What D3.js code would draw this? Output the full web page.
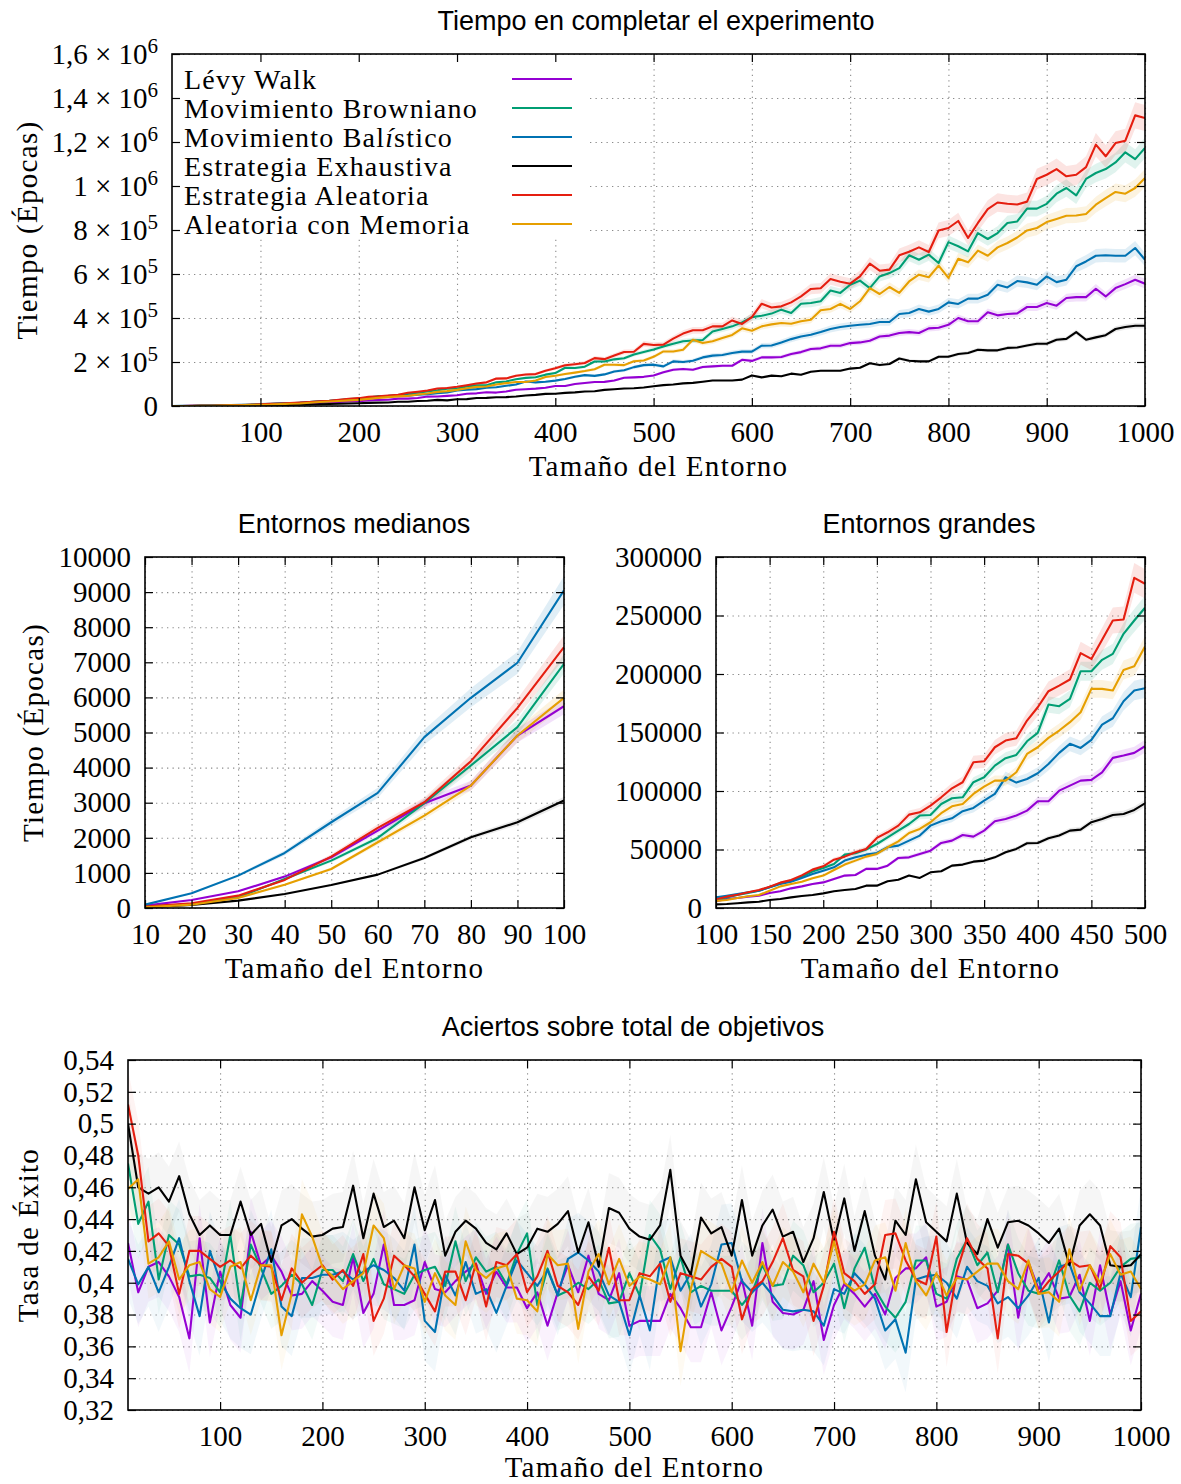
<!DOCTYPE html>
<html>
<head>
<meta charset="utf-8">
<script src="https://cdn.jsdelivr.net/npm/d3@7"></script>
<style>
  body { margin: 0; background: #fff; }
  text { font-family: "Liberation Serif", "Times New Roman", serif; fill: #000; }
  .titulo { font-family: "Liberation Sans", Arial, sans-serif; font-size: 27px; }
  .rotulo { font-size: 29px; letter-spacing: 1.3px; }
</style>
</head>
<body>
<svg id="fig" width="1181" height="1484"></svg>
<script>
const svg = d3.select("#fig");

// tamaños del entorno: 10, 20, ..., 1000
let tamanos = d3.range(10, 1001, 10);

let estrategias = ["Lévy Walk", "Movimiento Browniano", "Movimiento Balístico",
                   "Estrategia Exhaustiva", "Estrategia Aleatoria", "Aleatoria con Memoria"];
let colores = ["#9400d3", "#009e73", "#0072b2", "#000000", "#e51e10", "#e69f00"];

// tiempo medio en completar (miles de épocas)
let tiempoLevy = [
  0.067, 0.228, 0.475, 0.894, 1.445, 2.205, 2.985, 3.489, 4.914, 5.751,
  7.7, 8.6, 9.7, 10.5, 12.8, 14.3, 16.8, 18.5, 20.5, 21.9,
  24.8, 27.7, 28.2, 33.4, 33.4, 36.2, 42.8, 43.3, 46.2, 49.0,
  55.6, 57.6, 62.4, 61.0, 66.1, 74.1, 76.1, 79.0, 83.2, 91.2,
  91.2, 100.3, 104.6, 108.9, 109.5, 116.0, 128.3, 130.3, 132.6, 138.3,
  153, 165, 168, 165, 177, 180, 183, 183, 210, 205,
  221, 221, 223, 236, 245, 259, 262, 274, 274, 286,
  289, 297, 316, 320, 332, 336, 332, 353, 356, 369,
  400, 385, 385, 426, 412, 418, 421, 450, 450, 468,
  456, 491, 495, 495, 533, 498, 536, 554, 574, 556];
let tiempoBrown = [
  0.040, 0.114, 0.304, 0.827, 1.350, 1.996, 2.985, 4.059, 5.152, 6.958,
  9.1, 11.1, 12.8, 14.8, 17.7, 21.1, 23.4, 26.8, 31.1, 34.2,
  37.6, 45.6, 46.8, 49.9, 54.7, 60.4, 66.1, 71.8, 79.0, 79.5,
  88.9, 93.8, 94.6, 107.5, 111.7, 121.7, 128.0, 130.8, 142.5, 149.7,
  173.9, 172.5, 178.7, 202.4, 202.4, 212.1, 217.2, 234.3, 245.7, 256.6,
  271, 283, 294, 298, 300, 339, 350, 362, 380, 404,
  410, 420, 438, 423, 465, 468, 476, 525, 514, 551,
  570, 536, 589, 604, 627, 685, 665, 688, 650, 745,
  726, 703, 786, 759, 786, 832, 839, 897, 897, 919,
  965, 991, 957, 1032, 1059, 1077, 1107, 1153, 1122, 1173];
let tiempoBalis = [
  0.095, 0.418, 0.922, 1.568, 2.443, 3.280, 4.867, 5.989, 6.987, 9.049,
  10.5, 12.0, 13.4, 14.8, 17.7, 20.5, 22.5, 25.7, 29.1, 31.9,
  34.8, 40.5, 43.3, 45.6, 47.0, 51.9, 53.3, 57.6, 61.9, 70.4,
  74.1, 76.7, 82.7, 85.5, 91.8, 97.5, 111.7, 107.2, 110.3, 115.2,
  123.1, 132.6, 140.3, 136.8, 143.7, 156.8, 162.2, 176.7, 185.9, 187.9,
  180, 203, 200, 206, 221, 229, 232, 241, 247, 247,
  274, 275, 289, 304, 316, 324, 336, 350, 359, 365,
  369, 373, 382, 382, 418, 423, 441, 429, 441, 471,
  464, 488, 488, 506, 551, 539, 568, 562, 551, 589,
  563, 574, 635, 657, 683, 685, 683, 683, 718, 665];
let tiempoExhau = [
  0.019, 0.086, 0.209, 0.399, 0.656, 0.951, 1.426, 2.015, 2.443, 3.061,
  3.4, 4.0, 4.8, 5.4, 6.8, 7.7, 9.1, 10.3, 11.1, 12.5,
  14.3, 15.4, 16.2, 19.1, 19.1, 22.8, 24.2, 27.7, 25.7, 30.5,
  31.4, 36.2, 37.1, 39.6, 40.5, 43.3, 47.6, 50.5, 55.3, 55.6,
  59.6, 61.9, 66.1, 67.0, 73.3, 76.1, 79.5, 80.4, 83.8, 89.5,
  95, 98, 103, 105, 110, 116, 116, 116, 120, 139,
  130, 138, 135, 147, 142, 156, 160, 160, 160, 170,
  174, 194, 186, 191, 216, 206, 203, 203, 224, 224,
  236, 241, 256, 253, 253, 264, 266, 275, 283, 283,
  301, 305, 336, 301, 312, 322, 350, 359, 365, 365];
let tiempoAleat = [
  0.040, 0.133, 0.352, 0.800, 1.464, 2.281, 3.013, 4.183, 5.703, 7.433,
  9.7, 11.4, 13.4, 15.4, 18.2, 21.7, 23.9, 27.9, 32.8, 35.6,
  41.3, 43.9, 47.6, 50.5, 59.9, 64.7, 70.4, 79.8, 81.8, 87.5,
  94.6, 102.3, 107.5, 124.6, 125.4, 137.4, 143.1, 145.1, 160.2, 171.6,
  185.3, 190.1, 195.3, 217.8, 212.9, 229.2, 245.7, 246.6, 282.2, 277.1,
  279, 306, 329, 344, 344, 362, 362, 389, 373, 404,
  465, 448, 453, 471, 498, 532, 535, 577, 565, 556,
  589, 647, 615, 620, 685, 701, 721, 700, 798, 809,
  841, 764, 832, 895, 925, 919, 916, 929, 1032, 1051,
  1077, 1044, 1051, 1086, 1188, 1135, 1195, 1206, 1321, 1309];
let tiempoMemoria = [
  0.019, 0.095, 0.285, 0.665, 1.112, 1.873, 2.633, 3.489, 4.914, 5.989,
  6.8, 8.6, 10.0, 11.1, 14.8, 18.5, 20.5, 22.5, 25.4, 27.7,
  32.5, 37.1, 40.5, 43.9, 46.2, 51.9, 57.0, 64.1, 67.6, 73.3,
  81.0, 86.9, 88.9, 97.5, 103.8, 108.9, 108.9, 116.0, 131.7, 137.4,
  145.4, 151.7, 158.8, 167.3, 187.3, 187.3, 185.9, 203.5, 206.7, 223.5,
  248, 248, 256, 301, 286, 294, 309, 323, 353, 342,
  362, 371, 377, 374, 385, 392, 435, 441, 464, 441,
  476, 536, 509, 541, 514, 566, 597, 585, 638, 582,
  669, 653, 706, 683, 721, 741, 766, 798, 809, 836,
  850, 865, 866, 873, 915, 945, 973, 965, 991, 1036];

// tasa de éxito (aciertos / objetivos)
let exitoLevy = [
  0.425, 0.394, 0.410, 0.413, 0.404, 0.391, 0.365, 0.428, 0.375, 0.407,
  0.386, 0.378, 0.432, 0.411, 0.417, 0.407, 0.392, 0.393, 0.401, 0.395,
  0.388, 0.386, 0.416, 0.381, 0.393, 0.424, 0.386, 0.386, 0.389, 0.413,
  0.396, 0.394, 0.401, 0.407, 0.412, 0.393, 0.407, 0.397, 0.397, 0.384,
  0.394, 0.373, 0.394, 0.411, 0.394, 0.417, 0.393, 0.389, 0.406, 0.373,
  0.376, 0.376, 0.376, 0.393, 0.384, 0.372, 0.372, 0.394, 0.370, 0.385,
  0.402, 0.373, 0.425, 0.388, 0.381, 0.380, 0.383, 0.401, 0.364, 0.386,
  0.399, 0.393, 0.385, 0.393, 0.380, 0.403, 0.409, 0.409, 0.416, 0.385,
  0.388, 0.404, 0.402, 0.384, 0.387, 0.395, 0.424, 0.378, 0.413, 0.396,
  0.406, 0.390, 0.391, 0.405, 0.376, 0.411, 0.380, 0.401, 0.370, 0.393];
let exitoBrown = [
  0.475, 0.437, 0.451, 0.402, 0.430, 0.424, 0.404, 0.405, 0.403, 0.394,
  0.430, 0.385, 0.424, 0.409, 0.393, 0.398, 0.405, 0.399, 0.386, 0.408,
  0.408, 0.401, 0.418, 0.401, 0.415, 0.399, 0.396, 0.393, 0.405, 0.408,
  0.410, 0.398, 0.426, 0.401, 0.416, 0.407, 0.410, 0.399, 0.418, 0.431,
  0.386, 0.409, 0.392, 0.395, 0.400, 0.396, 0.402, 0.387, 0.388, 0.406,
  0.392, 0.430, 0.421, 0.396, 0.416, 0.394, 0.398, 0.395, 0.395, 0.395,
  0.386, 0.394, 0.411, 0.398, 0.399, 0.417, 0.411, 0.394, 0.400, 0.412,
  0.384, 0.409, 0.422, 0.396, 0.385, 0.378, 0.388, 0.414, 0.414, 0.393,
  0.390, 0.415, 0.427, 0.411, 0.419, 0.394, 0.424, 0.406, 0.395, 0.393,
  0.396, 0.414, 0.392, 0.382, 0.400, 0.395, 0.400, 0.410, 0.415, 0.416];
let exitoBalis = [
  0.415, 0.399, 0.410, 0.394, 0.410, 0.428, 0.401, 0.379, 0.420, 0.401,
  0.390, 0.384, 0.380, 0.402, 0.421, 0.385, 0.379, 0.403, 0.403, 0.405,
  0.405, 0.407, 0.402, 0.407, 0.411, 0.408, 0.403, 0.395, 0.424, 0.376,
  0.369, 0.405, 0.392, 0.413, 0.393, 0.396, 0.381, 0.398, 0.414, 0.406,
  0.398, 0.408, 0.392, 0.415, 0.419, 0.414, 0.407, 0.392, 0.388, 0.367,
  0.392, 0.370, 0.413, 0.416, 0.395, 0.406, 0.385, 0.399, 0.424, 0.425,
  0.401, 0.394, 0.400, 0.392, 0.383, 0.382, 0.383, 0.382, 0.373, 0.396,
  0.393, 0.406, 0.399, 0.390, 0.370, 0.377, 0.356, 0.402, 0.404, 0.405,
  0.400, 0.390, 0.410, 0.401, 0.398, 0.387, 0.391, 0.384, 0.392, 0.403,
  0.375, 0.410, 0.412, 0.394, 0.387, 0.379, 0.379, 0.406, 0.391, 0.435];
let exitoExhau = [
  0.500, 0.460, 0.456, 0.460, 0.451, 0.467, 0.443, 0.430, 0.436, 0.430,
  0.430, 0.451, 0.430, 0.437, 0.413, 0.436, 0.440, 0.434, 0.429, 0.430,
  0.434, 0.435, 0.461, 0.428, 0.456, 0.435, 0.439, 0.428, 0.460, 0.433,
  0.452, 0.417, 0.432, 0.439, 0.434, 0.425, 0.421, 0.431, 0.418, 0.422,
  0.434, 0.432, 0.437, 0.445, 0.419, 0.438, 0.410, 0.447, 0.444, 0.434,
  0.429, 0.427, 0.436, 0.471, 0.417, 0.405, 0.441, 0.431, 0.435, 0.417,
  0.452, 0.417, 0.436, 0.446, 0.429, 0.432, 0.413, 0.428, 0.457, 0.426,
  0.453, 0.420, 0.445, 0.417, 0.402, 0.439, 0.430, 0.465, 0.438, 0.432,
  0.426, 0.456, 0.425, 0.418, 0.440, 0.422, 0.438, 0.439, 0.436, 0.431,
  0.425, 0.434, 0.411, 0.436, 0.443, 0.436, 0.411, 0.410, 0.411, 0.418];
let exitoAleat = [
  0.512, 0.480, 0.426, 0.431, 0.423, 0.393, 0.420, 0.420, 0.415, 0.410,
  0.414, 0.409, 0.417, 0.411, 0.410, 0.389, 0.409, 0.400, 0.406, 0.411,
  0.402, 0.408, 0.398, 0.418, 0.376, 0.390, 0.417, 0.411, 0.404, 0.393,
  0.382, 0.407, 0.407, 0.389, 0.412, 0.385, 0.413, 0.411, 0.418, 0.394,
  0.404, 0.420, 0.398, 0.394, 0.386, 0.404, 0.395, 0.422, 0.389, 0.389,
  0.406, 0.404, 0.412, 0.388, 0.406, 0.404, 0.402, 0.410, 0.415, 0.410,
  0.377, 0.396, 0.401, 0.413, 0.428, 0.408, 0.404, 0.376, 0.398, 0.432,
  0.406, 0.401, 0.393, 0.399, 0.430, 0.431, 0.414, 0.402, 0.399, 0.429,
  0.369, 0.407, 0.428, 0.415, 0.409, 0.365, 0.418, 0.417, 0.412, 0.393,
  0.401, 0.407, 0.414, 0.410, 0.411, 0.396, 0.423, 0.416, 0.376, 0.382];
let exitoMemoria = [
  0.459, 0.465, 0.412, 0.416, 0.426, 0.402, 0.411, 0.413, 0.396, 0.391,
  0.410, 0.413, 0.389, 0.411, 0.411, 0.367, 0.393, 0.443, 0.429, 0.410,
  0.404, 0.396, 0.401, 0.406, 0.436, 0.428, 0.396, 0.411, 0.409, 0.388,
  0.406, 0.392, 0.386, 0.426, 0.408, 0.403, 0.409, 0.411, 0.390, 0.389,
  0.382, 0.418, 0.411, 0.412, 0.371, 0.407, 0.418, 0.399, 0.415, 0.398,
  0.404, 0.402, 0.399, 0.416, 0.357, 0.396, 0.420, 0.416, 0.412, 0.394,
  0.414, 0.400, 0.413, 0.398, 0.413, 0.407, 0.394, 0.412, 0.400, 0.426,
  0.400, 0.395, 0.399, 0.414, 0.416, 0.395, 0.425, 0.401, 0.392, 0.406,
  0.392, 0.403, 0.402, 0.407, 0.412, 0.412, 0.401, 0.396, 0.414, 0.393,
  0.394, 0.388, 0.421, 0.395, 0.411, 0.400, 0.418, 0.405, 0.407, 0.396];

// semianchura de las bandas de dispersión
let bandaTiempo = [0.04, 0.04, 0.045, 0.035, 0.045, 0.04];   // relativa
let bandaExito = [0.022, 0.022, 0.025, 0.022, 0.022, 0.022];  // absoluta

let tiempos = [tiempoLevy, tiempoBrown, tiempoBalis, tiempoExhau, tiempoAleat, tiempoMemoria];
let exitos = [exitoLevy, exitoBrown, exitoBalis, exitoExhau, exitoAleat, exitoMemoria];

let fuenteEje = 29;

function formatoPotencia(sel) {
    sel.each(function(d) {
        let t = d3.select(this).text("");
        if (d === 0) { t.text("0"); return; }
        let e = Math.floor(Math.log10(d) + 1e-9);
        let m = +(d / Math.pow(10, e)).toFixed(1);
        t.append("tspan").text(String(m).replace(".", ",") + " × 10");
        t.append("tspan").attr("dy", "-0.5em").attr("font-size", "21px").text(e);
    });
}

function formatoComa(d) {
    return String(+d.toFixed(2)).replace(".", ",");
}

function dibujarPanel(p) {
    let x = d3.scaleLinear().domain(p.xDom).range([p.izq, p.der]);
    let y = d3.scaleLinear().domain(p.yDom).range([p.abajo, p.arriba]);
    let ancho = p.der - p.izq, alto = p.abajo - p.arriba;
    let g = svg.append("g");

    // rejilla punteada
    g.append("g").attr("class", "rejilla").attr("transform", "translate(0," + p.abajo + ")")
        .call(d3.axisBottom(x).tickValues(p.xTicks).tickSize(-alto).tickFormat(""));
    g.append("g").attr("class", "rejilla").attr("transform", "translate(" + p.izq + ",0)")
        .call(d3.axisLeft(y).tickValues(p.yTicks).tickSize(-ancho).tickFormat(""));
    g.selectAll(".rejilla .domain").remove();
    g.selectAll(".rejilla line")
        .attr("stroke", "#8a8a8a").attr("stroke-width", 1.1).attr("stroke-dasharray", "1.3,4.2");

    svg.append("clipPath").attr("id", "clip-" + p.id).append("rect")
        .attr("x", p.izq).attr("y", p.arriba).attr("width", ancho).attr("height", alto);
    let capa = g.append("g").attr("clip-path", "url(#clip-" + p.id + ")");

    let puntos = p.series.map(serie => serie
        .map((v, i) => ({ t: tamanos[i], v: v * p.factor }))
        .filter(d => d.t >= p.xDom[0] && d.t <= p.xDom[1]));

    puntos.forEach((pts, k) => {
        let area = d3.area()
            .x(d => x(d.t))
            .y0(d => y(p.banda(d.v, k)[0]))
            .y1(d => y(p.banda(d.v, k)[1]));
        capa.append("path").datum(pts)
            .attr("d", area)
            .attr("fill", colores[k])
            .attr("fill-opacity", k === 3 ? p.opacidad * 0.7 : p.opacidad);
    });

    puntos.forEach((pts, k) => {
        capa.append("path").datum(pts)
            .attr("d", d3.line().x(d => x(d.t)).y(d => y(d.v)))
            .attr("fill", "none")
            .attr("stroke", colores[k])
            .attr("stroke-width", 2.1)
            .attr("stroke-linejoin", "round");
    });

    if (p.leyenda) p.leyenda(g);

    // marco y marcas hacia dentro
    g.append("rect").attr("x", p.izq).attr("y", p.arriba).attr("width", ancho).attr("height", alto)
        .attr("fill", "none").attr("stroke", "#000").attr("stroke-width", 1.6);

    let ejeX = g.append("g").attr("transform", "translate(0," + p.abajo + ")")
        .call(d3.axisBottom(x).tickValues(p.xTicks).tickSize(-8).tickPadding(15).tickFormat(d3.format("d")));
    g.append("g").attr("transform", "translate(0," + p.arriba + ")")
        .call(d3.axisTop(x).tickValues(p.xTicks).tickSize(-8).tickFormat(""));
    let ejeY = g.append("g").attr("transform", "translate(" + p.izq + ",0)")
        .call(d3.axisLeft(y).tickValues(p.yTicks).tickSize(-8).tickPadding(14).tickFormat(p.yFormato || d3.format("d")));
    g.append("g").attr("transform", "translate(" + p.der + ",0)")
        .call(d3.axisRight(y).tickValues(p.yTicks).tickSize(-8).tickFormat(""));

    g.selectAll(".domain").remove();
    g.selectAll(".tick line").filter(function() { return !this.closest(".rejilla"); })
        .attr("stroke", "#000").attr("stroke-width", 1.2);
    [ejeX, ejeY].forEach(e => e.attr("font-family", null).attr("font-size", null)
        .selectAll("text").attr("font-size", fuenteEje + "px").attr("fill", "#000"));
    if (p.potencias) ejeY.selectAll(".tick text").call(formatoPotencia);

    // títulos
    svg.append("text").attr("class", "titulo").attr("text-anchor", "middle")
        .attr("x", p.tituloX).attr("y", p.arriba - 24).text(p.titulo);
    svg.append("text").attr("class", "rotulo").attr("text-anchor", "middle")
        .attr("x", (p.izq + p.der) / 2).attr("y", p.abajo + p.xTituloDy).text("Tamaño del Entorno");
    if (p.yTitulo) {
        svg.append("text").attr("class", "rotulo").attr("text-anchor", "middle")
            .attr("transform", "translate(" + p.yTituloX + "," + ((p.arriba + p.abajo) / 2) + ") rotate(-90)")
            .text(p.yTitulo);
    }
}

function leyendaTiempo(g) {
    g.append("rect").attr("x", 173).attr("y", 55).attr("width", 414).attr("height", 184).attr("fill", "#fff");
    estrategias.forEach((nombre, k) => {
        let yy = 79 + k * 29;
        let t = g.append("text").attr("x", 184).attr("y", yy + 10)
            .attr("font-size", "28px").attr("letter-spacing", "1.2px");
        let partes = nombre.split("í");
        if (partes.length > 1) {
            t.append("tspan").text(partes[0]);
            t.append("tspan").attr("font-style", "italic").text("í");
            t.append("tspan").text(partes[1]);
        } else {
            t.text(nombre);
        }
        g.append("line").attr("x1", 512).attr("x2", 572).attr("y1", yy).attr("y2", yy)
            .attr("stroke", colores[k]).attr("stroke-width", 2.1);
    });
}

let bandaRel = (v, k) => [v * (1 - bandaTiempo[k]), v * (1 + bandaTiempo[k])];
let bandaAbs = (v, k) => [v - bandaExito[k], v + bandaExito[k]];

dibujarPanel({
    id: "completo", izq: 172, der: 1145, arriba: 54, abajo: 406,
    xDom: [10, 1000], yDom: [0, 1600000],
    xTicks: d3.range(100, 1001, 100), yTicks: d3.range(0, 1600001, 200000),
    series: tiempos, factor: 1000, banda: bandaRel, opacidad: 0.12,
    potencias: true, leyenda: leyendaTiempo,
    titulo: "Tiempo en completar el experimento", tituloX: 656,
    xTituloDy: 70, yTitulo: "Tiempo (Épocas)", yTituloX: 37
});

dibujarPanel({
    id: "medianos", izq: 145, der: 564, arriba: 557, abajo: 908,
    xDom: [10, 100], yDom: [0, 10000],
    xTicks: d3.range(10, 101, 10), yTicks: d3.range(0, 10001, 1000),
    series: tiempos, factor: 1000, banda: bandaRel, opacidad: 0.12,
    titulo: "Entornos medianos", tituloX: 354,
    xTituloDy: 70, yTitulo: "Tiempo (Épocas)", yTituloX: 43
});

dibujarPanel({
    id: "grandes", izq: 716, der: 1145, arriba: 557, abajo: 908,
    xDom: [100, 500], yDom: [0, 300000],
    xTicks: d3.range(100, 501, 50), yTicks: d3.range(0, 300001, 50000),
    series: tiempos, factor: 1000, banda: bandaRel, opacidad: 0.12,
    titulo: "Entornos grandes", tituloX: 929,
    xTituloDy: 70
});

dibujarPanel({
    id: "exito", izq: 128, der: 1141, arriba: 1060, abajo: 1410,
    xDom: [10, 1000], yDom: [0.32, 0.54],
    xTicks: d3.range(100, 1001, 100), yTicks: d3.range(0.32, 0.5401, 0.02),
    series: exitos, factor: 1, banda: bandaAbs, opacidad: 0.05,
    yFormato: formatoComa,
    titulo: "Aciertos sobre total de objetivos", tituloX: 633,
    xTituloDy: 67, yTitulo: "Tasa de Éxito", yTituloX: 38
});
</script>
</body>
</html>
